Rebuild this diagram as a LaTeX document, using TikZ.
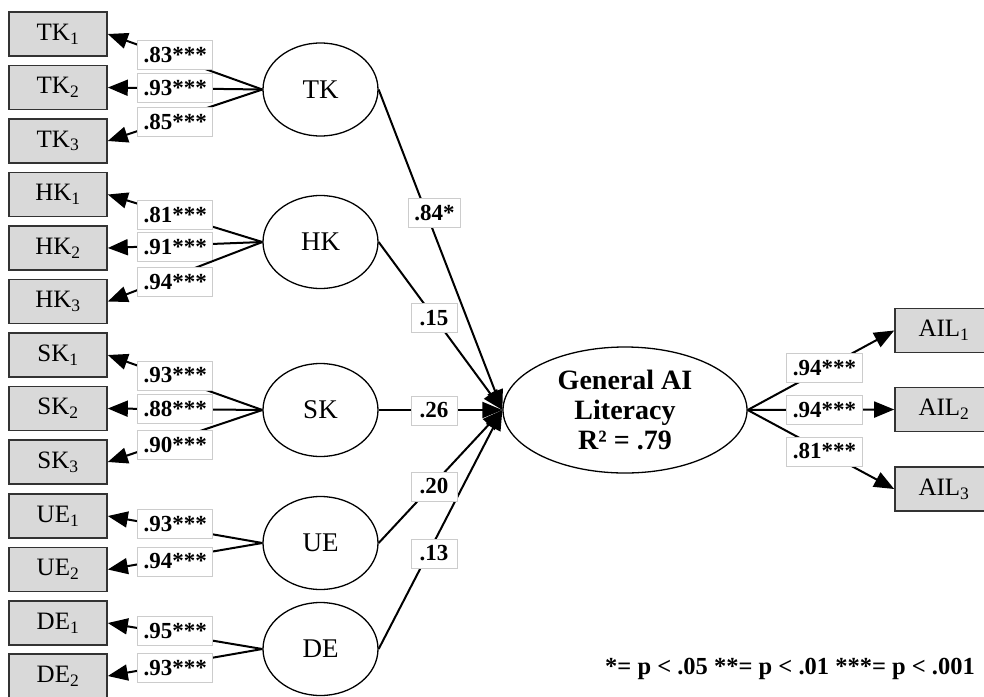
\documentclass[tikz,border=0pt]{standalone}
\usepackage{fontspec}
\setmainfont{Liberation Serif}
\usetikzlibrary{arrows.meta,shapes.geometric}
\begin{document}
\begin{tikzpicture}[x=1pt,y=-1pt,
  obs/.style={draw=black!80, line width=1.6pt, fill=black!15, minimum width=98pt, minimum height=44pt, inner sep=0pt, font=\fontsize{25}{28}\selectfont},
  lat/.style={draw, ellipse, line width=1.3pt, minimum width=115pt, minimum height=93pt, inner sep=0pt, font=\fontsize{27}{30}\selectfont},
  lbl/.style={draw=black!20, fill=white, line width=0.8pt, minimum width=46pt, minimum height=29pt, inner xsep=6pt, inner ysep=0pt, font=\fontsize{23}{26}\selectfont\bfseries},
  conn/.style={line width=2pt, -{Triangle[length=20pt,width=16pt]}}
]
\clip (0,0) rectangle (984,696);
% indicators left
\node[obs] (tk1) at (58,34)    {TK\textsubscript{1}};
\node[obs] (tk2) at (58,87.5)  {TK\textsubscript{2}};
\node[obs] (tk3) at (58,141)   {TK\textsubscript{3}};
\node[obs] (hk1) at (58,194.5) {HK\textsubscript{1}};
\node[obs] (hk2) at (58,248)   {HK\textsubscript{2}};
\node[obs] (hk3) at (58,301.5) {HK\textsubscript{3}};
\node[obs] (sk1) at (58,355)   {SK\textsubscript{1}};
\node[obs] (sk2) at (58,408.5) {SK\textsubscript{2}};
\node[obs] (sk3) at (58,462)   {SK\textsubscript{3}};
\node[obs] (ue1) at (58,516)   {UE\textsubscript{1}};
\node[obs] (ue2) at (58,569.5) {UE\textsubscript{2}};
\node[obs] (de1) at (58,623)   {DE\textsubscript{1}};
\node[obs] (de2) at (58,676)   {DE\textsubscript{2}};
% latent
\node[lat] (tk) at (320.5,89.5) {TK};
\node[lat] (hk) at (320.5,242)  {HK};
\node[lat] (sk) at (320.5,410)  {SK};
\node[lat] (ue) at (320.5,543)  {UE};
\node[lat] (de) at (320.5,649)  {DE};
% general
\node[draw, ellipse, line width=1.3pt, minimum width=244pt, minimum height=126pt, inner sep=0pt, align=center,
      font=\fontsize{28}{30}\selectfont\bfseries] (gen) at (625,410) {General AI\\Literacy\\R² = .79};
% AIL
\node[obs] (ail1) at (944,330.5) {AIL\textsubscript{1}};
\node[obs] (ail2) at (944,409.5) {AIL\textsubscript{2}};
\node[obs] (ail3) at (944,489)   {AIL\textsubscript{3}};
% loadings
\draw[conn] (tk.west) -- node[lbl,pos=0.564,yshift=3.5pt]  {.83***} (tk1.east);
\draw[conn] (tk.west) -- node[lbl,pos=0.564]               {.93***} (tk2.east);
\draw[conn] (tk.west) -- node[lbl,pos=0.564,yshift=-3.5pt] {.85***} (tk3.east);
\draw[conn] (hk.west) -- node[lbl,pos=0.564]               {.81***} (hk1.east);
\draw[conn] (hk.west) -- node[lbl,pos=0.564,yshift=-2pt]   {.91***} (hk2.east);
\draw[conn] (hk.west) -- node[lbl,pos=0.564,yshift=-6pt]   {.94***} (hk3.east);
\draw[conn] (sk.west) -- node[lbl,pos=0.564,yshift=3.5pt]  {.93***} (sk1.east);
\draw[conn] (sk.west) -- node[lbl,pos=0.564]               {.88***} (sk2.east);
\draw[conn] (sk.west) -- node[lbl,pos=0.564,yshift=-6pt]   {.90***} (sk3.east);
\draw[conn] (ue.west) -- node[lbl,pos=0.564,yshift=3.5pt]  {.93***} (ue1.east);
\draw[conn] (ue.west) -- node[lbl,pos=0.564,yshift=-3.5pt] {.94***} (ue2.east);
\draw[conn] (de.west) -- node[lbl,pos=0.564,yshift=3.5pt]  {.95***} (de1.east);
\draw[conn] (de.west) -- node[lbl,pos=0.564,yshift=-3.5pt] {.93***} (de2.east);
% structural paths
\draw[conn] (tk.east) -- (gen.west);
\draw[conn] (hk.east) -- (gen.west);
\draw[conn] (sk.east) -- (gen.west);
\draw[conn] (ue.east) -- (gen.west);
\draw[conn] (de.east) -- (gen.west);
\node[lbl] (p1) at (434.5,213)   {.84*};
\node[lbl] (p2) at (434,318)     {.15};
\node[lbl] (p3) at (434,410.5)   {.26};
\node[lbl] (p4) at (434,486.5)   {.20};
\node[lbl] (p5) at (434,553.5)   {.13};
% AIL loadings
\draw[conn] (gen.east) -- node[lbl,pos=0.524] {.94***} (ail1.west);
\draw[conn] (gen.east) -- node[lbl,pos=0.524] {.94***} (ail2.west);
\draw[conn] (gen.east) -- node[lbl,pos=0.524] {.81***} (ail3.west);
% legend
\node[anchor=east, inner sep=0pt, font=\fontsize{24.5}{28}\selectfont\bfseries] (leg) at (975,669) {*= p < .05 **= p < .01 ***= p < .001};
\end{tikzpicture}
\end{document}
